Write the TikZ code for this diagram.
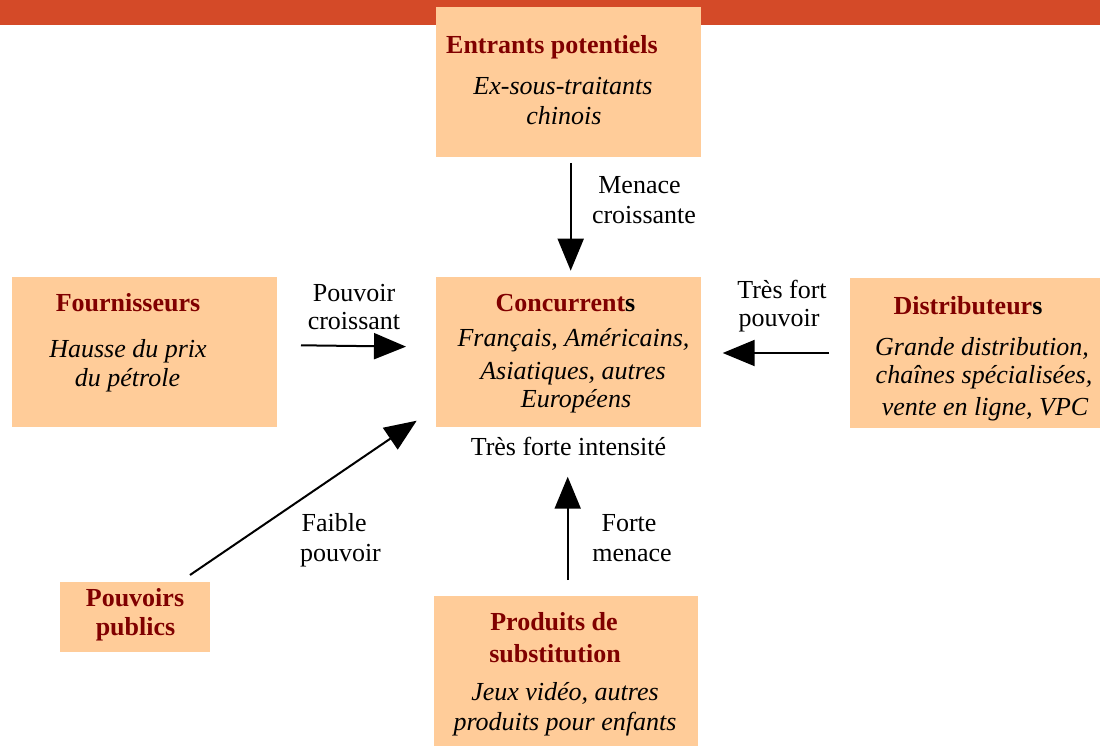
\documentclass[tikz,border=0pt]{standalone}
\usepackage{fontspec}
\setmainfont{Liberation Serif}
\usetikzlibrary{arrows.meta,calc}
\definecolor{peach}{HTML}{FFCC99}
\definecolor{maroon}{HTML}{800000}
\definecolor{topbar}{HTML}{D44A28}
\begin{document}
\begin{tikzpicture}[x=1pt,y=-1pt,
  every node/.style={inner sep=0pt,outer sep=0pt,font=\fontsize{26}{30}\selectfont},
  box/.style={fill=peach,draw=none,minimum width=#1},
  ttl/.style={anchor=base,text=maroon,font=\fontsize{26}{30}\selectfont\bfseries},
  itl/.style={anchor=base,font=\fontsize{26}{30}\selectfont\itshape},
  lbl/.style={anchor=base,font=\fontsize{26}{30}\selectfont},
  arr/.style={line width=2pt,-{Triangle[length=32pt,width=26pt]}}]
\useasboundingbox (0,0) rectangle (1100,746);
% top bar
\fill[topbar] (0,0) rectangle (1100,25);
% boxes
\node[box=265pt,minimum height=150pt] (ent) at (568.5,82) {};
\node[box=265pt,minimum height=150pt] (conc) at (568.5,352) {};
\node[box=250pt,minimum height=150pt] (dist) at (975,353) {};
\node[box=265pt,minimum height=150pt] (four) at (144.5,352) {};
\node[box=150pt,minimum height=70pt] (pouv) at (135,617) {};
\node[box=264pt,minimum height=150pt] (prod) at (566,671) {};
% Entrants
\node[ttl] (entT) at (552,53.3) {Entrants potentiels};
\node[itl] (entA) at (563,95) {Ex-sous-traitants};
\node[itl] (entB) at (564,125) {chinois};
% Concurrents
\node[ttl] (concT) at (565.5,311.7) {Concurrent\textcolor{black}{s}};
\node[itl] (concA) at (573.5,346) {Français, Américains,};
\node[itl] (concB) at (573,379) {Asiatiques, autres};
\node[itl] (concC) at (576,407) {Européens};
\node[lbl] (intens) at (568.5,455) {Très forte intensité};
% Distributeurs
\node[ttl] (distT) at (968,314) {Distributeur\textcolor{black}{s}};
\node[itl] (distA) at (982,355) {Grande distribution,};
\node[itl] (distB) at (984,383) {chaînes spécialisées,};
\node[itl] (distC) at (985,415) {vente en ligne, VPC};
% Fournisseurs
\node[ttl] (fourT) at (128,311) {Fournisseurs};
\node[itl] (fourA) at (128,357) {Hausse du prix};
\node[itl] (fourB) at (127.5,386.7) {du pétrole};
% Pouvoirs publics
\node[ttl] (pouvT) at (135,606.7) {Pouvoirs};
\node[ttl] (pouvB) at (135.5,635) {publics};
% Produits
\node[ttl] (prodT) at (554,630) {Produits de};
\node[ttl] (prodB) at (555,662.7) {substitution};
\node[itl] (prodA) at (565,700) {Jeux vidéo, autres};
\node[itl] (prodC) at (565,730) {produits pour enfants};
% arrow labels
\node[lbl] (l1a) at (639.5,194) {Menace};
\node[lbl] (l1b) at (644,224) {croissante};
\node[lbl] (l2a) at (354,301.7) {Pouvoir};
\node[lbl] (l2b) at (354,329.3) {croissant};
\node[lbl] (l3a) at (782,298) {Très fort};
\node[lbl] (l3b) at (779,326) {pouvoir};
\node[lbl,anchor=base west] (l4a) at (301.7,531.7) {Faible};
\node[lbl,anchor=base west] (l4b) at (300,561.7) {pouvoir};
\node[lbl] (l5a) at (629,531.7) {Forte};
\node[lbl] (l5b) at (632,561.7) {menace};
% connectors
\draw[arr,shorten <=6pt,shorten >=6.3pt] ($(ent.south)+(2.2,0)$) -- ($(conc.north)+(2.2,0)$);
\draw[arr,shorten <=24pt,shorten >=30pt] ($(four.east)+(0,-7)$) -- ($(conc.west)+(0,-5)$);
\draw[arr,shorten <=21pt,shorten >=21.7pt] ($(dist.west)$) -- ($(conc.east)+(0,1)$);
\draw[arr] ($(pouv.north)+(55,-7)$) -- ($(conc.south west)+(-19.3,-6.3)$);
\draw[arr,shorten <=16pt] ($(prod.north)+(1.7,0)$) -- ($(conc.south)+(-0.8,49.7)$);
\end{tikzpicture}
\end{document}
